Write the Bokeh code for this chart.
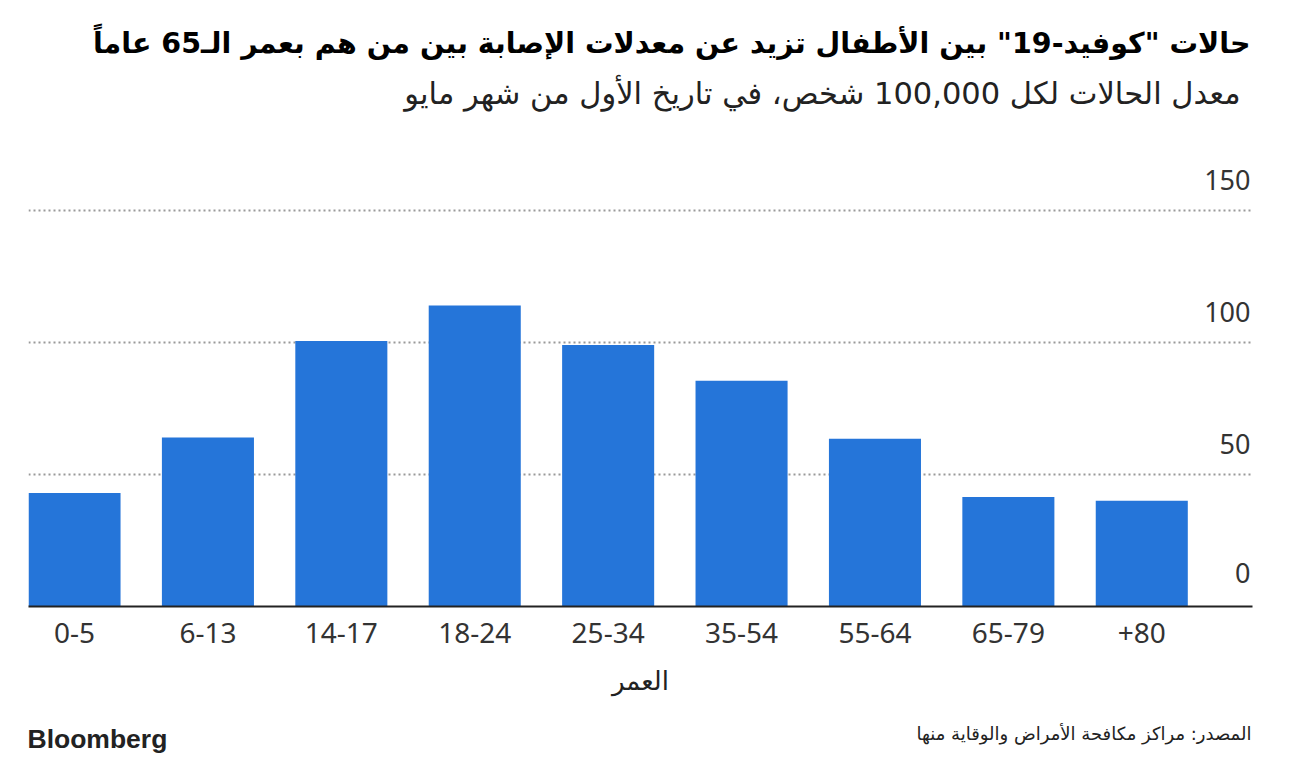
from bokeh.plotting import figure
from bokeh.models import Range1d, FixedTicker, Label
from bokeh.embed import file_html
from bokeh.resources import INLINE
from bokeh.core.properties import value

categories = ["0-5", "6-13", "14-17", "18-24", "25-34", "35-54", "55-64", "65-79", "+80"]
rates = [43, 64, 100.5, 114, 99, 85.5, 63.5, 41.5, 40]
y_ticks = [0, 50, 100, 150]
y_tick_labels = ["0", "50", "100", "150"]

title_text = 'حالات "كوفيد-19" بين الأطفال تزيد عن معدلات الإصابة بين من هم بعمر الـ65 عاماً'
subtitle_text = "معدل الحالات لكل 100,000 شخص، في تاريخ الأول من شهر مايو"
xlabel_text = "العمر"
source_text = "المصدر: مراكز مكافحة الأمراض والوقاية منها"
brand_text = "Bloomberg"

AR_FONT = "DejaVu Sans"
NUM_FONT = "Noto Sans"
BAR_COLOR = "#2575d9"

# layout (canvas pixels)
W, H = 1296, 764
FL, FR, FT, FB = 28, 1252, 157, 606      # frame edges
X0, X1 = -0.345, 8.83
Y0, Y1 = 0, 170

def dx(px):
    return X0 + (px - FL) * (X1 - X0) / (FR - FL)

def dy(py):
    return Y0 + (FB - py) * (Y1 - Y0) / (FB - FT)

xs = list(range(len(categories)))

p = figure(width=W, height=H, output_backend="svg", toolbar_location=None,
           title=None, x_range=Range1d(X0, X1), y_range=Range1d(Y0, Y1),
           min_border_left=FL, min_border_right=W - FR, min_border_top=FT,
           min_border_bottom=H - FB)
p.outline_line_color = None
p.background_fill_color = "white"
p.border_fill_color = "white"

p.vbar(x=xs, top=rates, width=0.69, bottom=0, fill_color=BAR_COLOR, line_color=None)

p.yaxis.visible = False
p.ygrid.ticker = FixedTicker(ticks=[50, 100, 150])
p.ygrid.grid_line_color = "#999999"
p.ygrid.grid_line_dash = "2 3"
p.ygrid.grid_line_width = 2
p.xgrid.visible = False

p.text(x=[X1] * len(y_ticks), y=y_ticks, text=y_tick_labels,
       text_align="right", text_baseline="alphabetic", y_offset=[-34, -30, -30, -30],
       x_offset=-2,
       text_font=value(NUM_FONT), text_font_size="27px", text_color="#333333")

xa = p.xaxis[0]
xa.ticker = FixedTicker(ticks=xs)
xa.major_label_overrides = {i: c for i, c in zip(xs, categories)}
xa.major_tick_line_color = None
xa.minor_tick_line_color = None
xa.axis_line_color = "#222222"
xa.axis_line_width = 2
xa.major_label_standoff = 10
xa.major_label_text_font = NUM_FONT
xa.major_label_text_font_size = "28px"
xa.major_label_text_color = "#333333"
xa.axis_label = xlabel_text
xa.axis_label_text_font = AR_FONT
xa.axis_label_text_font_style = "normal"
xa.axis_label_text_font_size = "26px"
xa.axis_label_text_color = "#222222"
xa.axis_label_standoff = 20

title_lbl = Label(x=dx(1250), y=dy(43), text=title_text,
                  text_align="right", text_baseline="middle", text_font=AR_FONT,
                  text_font_style="bold", text_font_size="28.5px", text_color="#000000")
sub_lbl = Label(x=dx(1240), y=dy(93), text=subtitle_text,
                text_align="right", text_baseline="middle", text_font=AR_FONT,
                text_font_size="30.5px", text_color="#222222")
src_lbl = Label(x=dx(1251), y=dy(733), text=source_text,
                text_align="right", text_baseline="middle", text_font=AR_FONT,
                text_font_size="18px", text_color="#222222")
brand_lbl = Label(x=dx(27), y=dy(738), text=brand_text,
                  text_align="left", text_baseline="middle", text_font="Liberation Sans",
                  text_font_style="bold", text_font_size="26.5px", text_color="#222222")

for lbl in (title_lbl, sub_lbl, src_lbl, brand_lbl):
    p.add_layout(lbl, "above")

open("out.html", "w").write(file_html(p, INLINE))
